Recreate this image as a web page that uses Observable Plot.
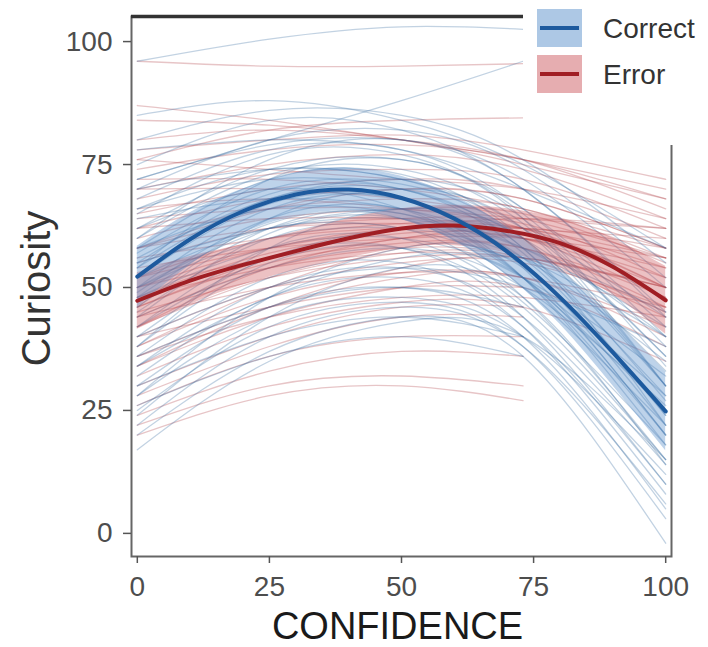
<!DOCTYPE html>
<html>
<head>
<meta charset="utf-8">
<script src="https://cdn.jsdelivr.net/npm/d3@7"></script>
<script src="https://cdn.jsdelivr.net/npm/@observablehq/plot@0.6"></script>
<style>
  html, body { margin: 0; padding: 0; background: #fff; }
  #wrap { position: relative; width: 708px; height: 647px; }
  #legend { position: absolute; left: 523px; top: 0px; width: 185px; height: 145px; background: #fff; }
</style>
</head>
<body>
<div id="wrap">
  <div id="chart"></div>
  <div id="legend"></div>
</div>
<script>
// ---- data ----
const XTICKS = [0, 25, 50, 75, 100];
const YTICKS = [0, 25, 50, 75, 100];
const SERIES = ["Correct", "Error"];
const COLORS_LINE = ["#1d5a9e", "#a01e24"];
const COLORS_FILL = ["#4a86c5", "#c8494f"];
const COLORS_THIN = ["#34699f", "#b04044"];

// x positions at which individual subject curves are sampled
const XS = [0, 25, 50, 73, 100];

// individual subject curves (values at XS; null = not observed)
const correctLines = [
  [96, 100.5, 103, 102.5, null],
  [72, 80, 88, 96, null],
  [85, 88, 84, 75, 58],
  [80, 86, 85, 76, 55],
  [75, 84, 82, 70, 45],
  [70, 80, 82, 74, 52],
  [68, 78, 78, 66, 40],
  [65, 77, 77, 65, 38],
  [62, 74, 76, 66, 42],
  [60, 73, 74, 63, 36],
  [58, 72, 73, 60, 30],
  [57, 70, 71, 60, 33],
  [55, 69, 70, 57, 28],
  [54, 68, 70, 58, 27],
  [52, 67, 68, 55, 22],
  [50, 66, 68, 54, 20],
  [49, 64, 66, 52, 18],
  [48, 63, 64, 50, 22],
  [46, 62, 65, 52, 25],
  [45, 60, 62, 48, 15],
  [44, 61, 64, 52, 28],
  [42, 58, 60, 47, 18],
  [40, 56, 58, 44, 10],
  [38, 55, 58, 46, 15],
  [36, 52, 55, 42, 8],
  [34, 50, 54, 44, 14],
  [32, 48, 52, 42, 10],
  [30, 46, 50, 40, 5],
  [28, 44, 48, 40, 12],
  [25, 42, 47, 38, 3],
  [22, 40, 46, 38, 6],
  [20, 37, 44, 36, -2],
  [17, 35, 43, 40, 15],
  [62, 70, 66, 52, 20],
  [58, 66, 65, 56, 35],
  [66, 72, 70, 60, 40],
  [55, 62, 64, 58, 45],
  [70, 74, 72, 62, 44],
  [48, 58, 60, 52, 32],
  [40, 50, 54, 50, 38],
  [78, 80, 78, 70, 58],
  [36, 46, 50, 46, null],
  [30, 40, 44, 40, null],
  [52, 62, 62, 55, null],
  [64, 68, 66, 58, 42],
  [44, 54, 58, 50, 26],
  [26, 36, 40, 36, null],
  [72, 79, 80, 72, 50],
  [56, 68, 72, 64, 34],
  [50, 62, 66, 60, 30],
  [42, 56, 62, 56, 24],
  [34, 48, 56, 52, 20],
  [60, 76, 80, 70, 44],
  [46, 64, 70, 62, 30],
  [38, 58, 66, 58, 22],
  [54, 72, 76, 64, 30],
  [28, 48, 58, 54, 24],
  [66, 74, 72, 62, 36],
  [50, 60, 62, 56, 40],
  [24, 44, 54, 48, 14]
];
const errorLines = [
  [96, 95, 95, 95.5, null],
  [76, 82, 84, 84.5, null],
  [87, 84, 80, 76, 70],
  [84, 83, 80, 75, 68],
  [80, 82, 80, 76, 66],
  [78, 80, 81, 78, 72],
  [74, 78, 79, 76, 68],
  [70, 75, 77, 74, 64],
  [68, 73, 74, 72, 62],
  [65, 70, 72, 70, 60],
  [62, 68, 70, 68, 58],
  [60, 66, 68, 66, 56],
  [58, 64, 66, 65, 55],
  [55, 62, 64, 63, 52],
  [52, 60, 63, 62, 50],
  [50, 58, 62, 60, 48],
  [48, 57, 61, 60, 50],
  [46, 55, 59, 58, 46],
  [44, 54, 58, 56, 44],
  [42, 52, 57, 56, 45],
  [40, 50, 55, 55, 46],
  [38, 48, 53, 52, 42],
  [36, 46, 52, 52, 40],
  [34, 44, 50, 50, 38],
  [32, 42, 47, 46, 35],
  [30, 40, 46, 46, null],
  [28, 38, 44, 44, null],
  [26, 36, 40, 40, null],
  [24, 33, 37, 36, null],
  [22, 30, 32, 30, null],
  [20, 28, 30, 27, null],
  [56, 60, 62, 60, 54],
  [62, 64, 64, 62, 56],
  [48, 54, 57, 56, 50],
  [72, 72, 70, 66, 58],
  [44, 50, 53, 52, 46],
  [36, 44, 48, 48, 44],
  [66, 68, 66, 62, 50],
  [54, 58, 60, 60, 56],
  [40, 46, 50, 50, null],
  [58, 62, 63, 62, 60],
  [76, 74, 72, 70, 64],
  [50, 56, 60, 62, 58],
  [45, 52, 56, 56, 50],
  [64, 66, 66, 64, 62],
  [52, 58, 62, 64, 62],
  [42, 54, 60, 60, 52],
  [34, 46, 54, 56, 50],
  [70, 70, 68, 64, 56],
  [58, 66, 70, 68, 58],
  [46, 56, 62, 62, 54],
  [38, 50, 58, 58, 48]
];

// group mean curves with confidence bands
const MX = [0, 10, 20, 30, 40, 50, 60, 70, 80, 90, 100];
const correctMean = [52.2, 59.8, 65.5, 68.9, 69.9, 68.2, 64, 57.3, 48, 36.8, 24.8];
const correctLo   = [46, 54.5, 61, 64.5, 65.6, 63.8, 59.4, 52.4, 42.5, 30, 16.8];
const correctHi   = [58.4, 65.2, 70, 73.3, 74.3, 72.6, 68.6, 62.2, 53.5, 43.6, 32.8];
const errorMean   = [47.3, 51.4, 54.6, 57.4, 60, 62, 62.6, 61.5, 59, 54.2, 47.4];
const errorLo     = [41.5, 46.5, 50.5, 53.5, 56, 58, 58.5, 57, 54, 48.5, 40.5];
const errorHi     = [53, 56.3, 58.7, 61.3, 64, 66, 66.7, 66, 64, 60, 54.3];

// ---- build tables ----
function thinTable(lines, group) {
  const out = [];
  lines.forEach((vals, i) => {
    vals.forEach((v, j) => { if (v != null) out.push({id: group + i, group, x: XS[j], y: v}); });
  });
  return out;
}
const thinCorrect = thinTable(correctLines, "Correct");
const thinError = thinTable(errorLines, "Error");
const meanTable = (mean, lo, hi, group) => MX.map((x, i) => ({x, y: mean[i], lo: lo[i], hi: hi[i], group}));
const mCorrect = meanTable(correctMean, correctLo, correctHi, "Correct");
const mError = meanTable(errorMean, errorLo, errorHi, "Error");

const XDOM = [-1.1, 101.1];
const YDOM = [-4.7, 105.1];

const chart = Plot.plot({
  width: 708,
  height: 647,
  marginLeft: 131,
  marginRight: 37,
  marginTop: 16,
  marginBottom: 91,
  style: {fontFamily: "'Liberation Sans', Arial, sans-serif", fontSize: "28px", color: "#4d4d4d", background: "#fff"},
  x: {domain: XDOM, label: null},
  y: {domain: YDOM, label: null},
  marks: [
    Plot.line(thinError, {x: "x", y: "y", z: "id", stroke: COLORS_THIN[1], strokeOpacity: 0.3, strokeWidth: 1.3, curve: "natural", clip: true}),
    Plot.line(thinCorrect, {x: "x", y: "y", z: "id", stroke: COLORS_THIN[0], strokeOpacity: 0.3, strokeWidth: 1.3, curve: "natural", clip: true}),
    Plot.areaY(mError, {x: "x", y1: "lo", y2: "hi", fill: COLORS_FILL[1], fillOpacity: 0.34, curve: "natural"}),
    Plot.areaY(mCorrect, {x: "x", y1: "lo", y2: "hi", fill: COLORS_FILL[0], fillOpacity: 0.36, curve: "natural"}),
    Plot.line(mError, {x: "x", y: "y", stroke: COLORS_LINE[1], strokeWidth: 4, curve: "natural"}),
    Plot.line(mCorrect, {x: "x", y: "y", stroke: COLORS_LINE[0], strokeWidth: 4, curve: "natural"}),
    Plot.frame({stroke: "#666", strokeWidth: 2}),
    Plot.ruleY([YDOM[1]], {stroke: "#333", strokeWidth: 3.5}),
    Plot.axisX({ticks: XTICKS, tickSize: 7, tickPadding: 13, stroke: "#555", strokeWidth: 1.5, fontSize: 28, label: null}),
    Plot.axisY({ticks: YTICKS, tickSize: 8, tickPadding: 11, stroke: "#555", strokeWidth: 1.5, fontSize: 28, label: null}),
    Plot.text(["CONFIDENCE"], {frameAnchor: "bottom", lineAnchor: "bottom", dy: 82, dx: -4, fontSize: 38, fill: "#1a1a1a", fontFamily: "'Liberation Sans', Arial, sans-serif"}),
    Plot.text(["Curiosity"], {frameAnchor: "left", textAnchor: "middle", rotate: -90, dx: -94, dy: 2, fontSize: 40, fill: "#333", fontFamily: "'Liberation Sans', Arial, sans-serif"})
  ]
});
document.getElementById("chart").appendChild(chart);

// ---- legend ----
const lg = d3.select("#legend").append("svg").attr("width", 185).attr("height", 145)
  .style("font-family", "'Liberation Sans', Arial, sans-serif");
const keyTops = [9, 55];
SERIES.forEach((s, i) => {
  const g = lg.append("g").attr("transform", `translate(14,${keyTops[i]})`);
  g.append("rect").attr("width", 45).attr("height", 38).attr("fill", COLORS_FILL[i]).attr("fill-opacity", 0.45);
  g.append("line").attr("x1", 3).attr("x2", 42).attr("y1", 19).attr("y2", 19)
    .attr("stroke", COLORS_LINE[i]).attr("stroke-width", 4);
  g.append("text").attr("x", 66).attr("y", 19).attr("dy", "0.36em")
    .attr("font-size", 28).attr("fill", "#333").text(s);
});
</script>
</body>
</html>
